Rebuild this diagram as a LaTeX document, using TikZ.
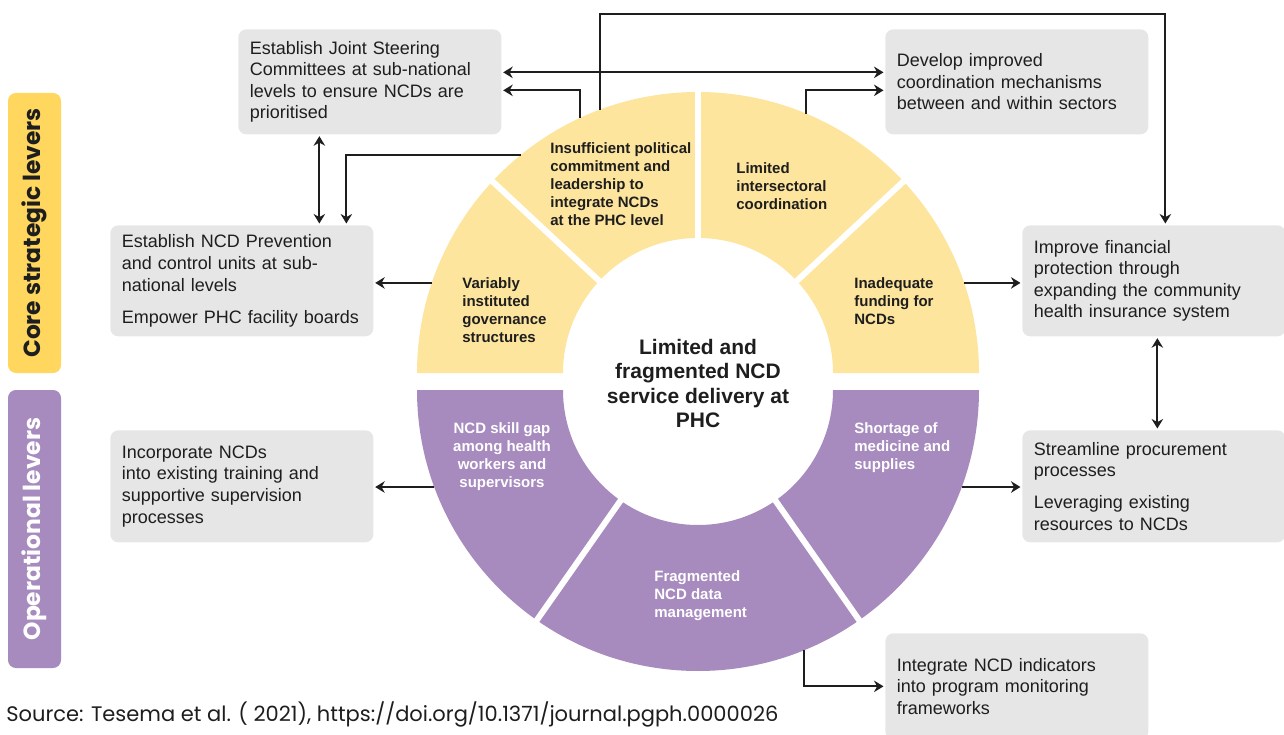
\documentclass[tikz,border=0pt]{standalone}
\usepackage{fontspec}
\setmainfont{Liberation Sans}
\newfontfamily\gothicfont{Poppins}
\usepackage{xcolor}
\usetikzlibrary{positioning, arrows.meta, calc}
\definecolor{ringyellow}{HTML}{FDE59D}
\definecolor{baryellow}{HTML}{FFD75F}
\definecolor{lavender}{HTML}{A78BBF}
\definecolor{boxgrey}{HTML}{E6E6E6}
\definecolor{inkdark}{HTML}{1E1E1E}

\begin{document}
\begin{tikzpicture}[
    lever/.style={rectangle, fill=boxgrey, rounded corners=4.5pt,
                  anchor=north west, minimum width=5.26cm,
                  text width=4.80cm, inner xsep=0.23cm, align=left,
                  font=\fontsize{10.24}{12.3}\selectfont, text=inkdark},
    seg/.style={inner sep=0pt, anchor=west, align=left,
                font=\bfseries\fontsize{8.54}{10.24}\selectfont, text=inkdark},
    segw/.style={seg, text=white},
    hub/.style={inner sep=0pt, align=center,
                font=\bfseries\fontsize{11.95}{13.94}\selectfont, text=inkdark},
    bar/.style={rectangle, rounded corners=4.5pt, rotate=90,
                minimum height=1.06cm, inner sep=0pt,
                font=\gothicfont\bfseries\fontsize{13.3}{15}\selectfont},
    gapline/.style={draw=white, line width=0.12cm},
    link/.style={-{Stealth[length=0.19cm, width=0.23cm]}, line width=0.045cm,
                 draw=inkdark, shorten >=0.03cm},
    link2/.style={{Stealth[length=0.19cm, width=0.23cm]}-{Stealth[length=0.19cm, width=0.23cm]},
                  line width=0.045cm, draw=inkdark, shorten >=0.03cm, shorten <=0.03cm},
]
\useasboundingbox (0,0) rectangle (25.68,14.68);

% --- ring centres ---
\coordinate (yc) at (13.96,7.22);
\coordinate (pc) at (13.96,6.88);

% --- upper half of the ring ---
\fill[ringyellow] ($(yc)+(0:5.62)$) arc[start angle=0, end angle=180, radius=5.62]
    -- ($(yc)+(180:2.70)$) arc[start angle=180, end angle=0, radius=2.70] -- cycle;
\foreach \a in {43,90,137}
    \draw[gapline] ($(yc)+(\a:2.5)$) -- ($(yc)+(\a:5.8)$);

% --- lower half of the ring ---
\fill[lavender] ($(pc)+(180:5.62)$) arc[start angle=180, end angle=360, radius=5.62]
    -- ($(pc)+(0:2.70)$) arc[start angle=360, end angle=180, radius=2.70] -- cycle;
\foreach \a in {235,305}
    \draw[gapline] ($(pc)+(\a:2.5)$) -- ($(pc)+(\a:5.8)$);

% --- ring labels ---
\node[hub] (hub) at (13.96,7.01) {Limited and\\fragmented NCD\\service delivery at\\PHC};
\node[seg] (commit) at (11.00,11.00) {Insufficient political\\commitment and\\leadership to\\integrate NCDs\\at the PHC level};
\node[seg] (intersec) at (14.72,10.96) {Limited\\intersectoral\\coordination};
\node[seg] (govern) at (9.24,8.48) {Variably\\instituted\\governance\\structures};
\node[seg] (funding) at (17.08,8.66) {Inadequate\\funding for\\NCDs};
\node[segw, anchor=center, align=center] (skill) at (10.04,5.54) {NCD skill gap\\among health\\workers and\\supervisors};
\node[segw] (supply) at (17.08,5.72) {Shortage of\\medicine and\\supplies};
\node[segw] (data) at (13.08,2.76) {Fragmented\\NCD data\\management};

% --- side bars ---
\node[bar, fill=baryellow, minimum width=5.60cm, text=inkdark] (core) at (0.69,10.02) {Core strategic levers};
\node[bar, fill=lavender, minimum width=5.56cm, text=white] (oper) at (0.69,4.10) {Operational levers};

% --- lever boxes ---
\node[lever, minimum height=2.10cm] (joint) at (4.76,14.10)
    {Establish Joint Steering\\Committees at sub-national\\levels to ensure NCDs are\\prioritised};
\node[lever, minimum height=2.22cm] (prevent) at (2.20,10.18)
    {Establish NCD Prevention\\and control units at sub-\\national levels\\[0.21cm]Empower PHC facility boards};
\node[lever, minimum height=2.24cm] (train) at (2.20,6.08)
    {Incorporate NCDs\\into existing training and\\supportive supervision\\processes};
\node[lever, minimum height=2.10cm] (coord) at (17.70,14.10)
    {Develop improved\\coordination mechanisms\\between and within sectors};
\node[lever, minimum height=2.22cm] (finance) at (20.44,10.18)
    {Improve financial\\protection through\\expanding the community\\health insurance system};
\node[lever, minimum height=2.24cm] (procure) at (20.44,6.08)
    {Streamline procurement\\processes\\[0.2cm]Leveraging existing\\resources to NCDs};
\node[lever, minimum height=2.12cm] (monitor) at (17.70,2.02)
    {Integrate NCD indicators\\into program monitoring\\frameworks};

% --- source line ---
\node[anchor=west, inner sep=0pt, font=\gothicfont\fontsize{11.95}{13}\selectfont, text=inkdark]
    (source) at (0.12,0.40) {Source: Tesema et al. ( 2021), https://doi.org/10.1371/journal.pgph.0000026};

% ============== connectors ==============
\coordinate (c1) at ($(yc)+(110.4:5.62)$);
\coordinate (c3) at ($(yc)+(114.8:5.62)$);
\coordinate (c4) at ($(yc)+(67.4:5.62)$);
\coordinate (c6) at ($(yc)+(129.1:5.62)$);
\coordinate (c7) at ($(yc)+(161.3:5.62)$);
\coordinate (c8) at ($(yc)+(18.7:5.62)$);
\coordinate (c10) at ($(pc)+(200.2:5.62)$);
\coordinate (c11) at ($(pc)+(339.8:5.62)$);
\coordinate (c12) at ($(pc)+(292.2:5.62)$);
\coordinate (j5) at ($(joint.south)+(-1.01,0)$);
\coordinate (f9) at ($(finance.south)+(0.07,0)$);

\draw[link] (c1) -- ++(0,1.92) -| ($(finance.north)+(0.23,0)$);
\draw[link2] ($(joint.east)+(0,0.19)$) -- ($(coord.west)+(0,0.19)$);
\draw[link] (c3) |- ($(joint.east)+(0,-0.17)$);
\draw[link] (c4) |- ($(coord.west)+(0,-0.17)$);
\draw[link2] (j5) -- (j5 |- prevent.north);
\draw[link] (c6) -| ($(prevent.north)+(2.09,0)$);
\draw[link] (c7) -- (c7 -| prevent.east);
\draw[link] (c8) -- (c8 -| finance.west);
\draw[link2] (f9) -- (f9 |- procure.north);
\draw[link] (c10) -- (c10 -| train.east);
\draw[link] (c11) -- (c11 -| procure.west);
\draw[link] (c12) |- (monitor.west);

\end{tikzpicture}
\end{document}
